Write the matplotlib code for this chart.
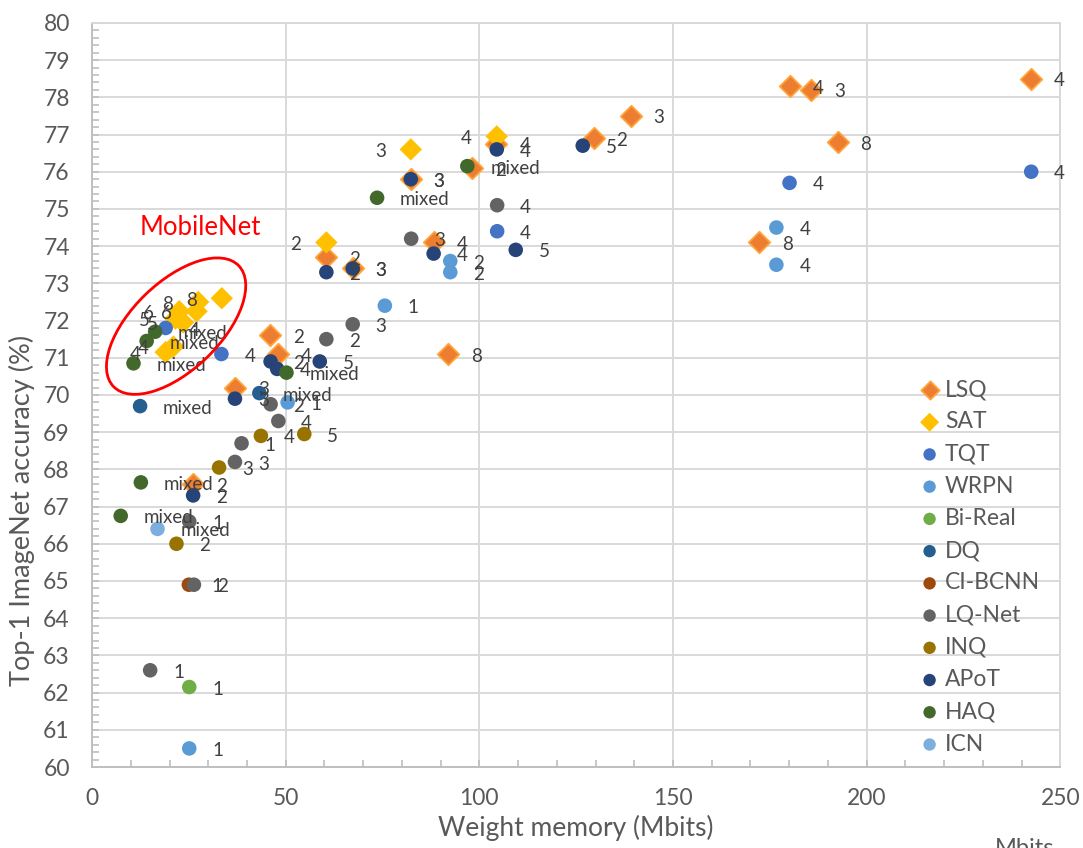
import numpy as np
import matplotlib.pyplot as plt
from matplotlib.patches import Ellipse
from matplotlib.transforms import ScaledTranslation
from matplotlib.ticker import MultipleLocator

plt.rcParams['font.family'] = ['Lato', 'DejaVu Sans']

# ---- data: (weight memory Mbits, top-1 acc %, bit label)
lsq_x = [242.5, 180.1, 185.6, 139.1, 129.5, 192.5, 172.3, 104.4, 98.2, 82.3, 88.2, 60.5, 67.3, 45.9, 48.1, 36.9, 91.9, 26.1]
lsq_y = [78.5, 78.3, 78.2, 77.5, 76.9, 76.8, 74.1, 76.75, 76.1, 75.8, 74.1, 73.7, 73.4, 71.6, 71.1, 70.2, 71.1, 67.6]
lsq_lab = ['4', '4', '3', '3', '2', '8', '8', '4', '2', '3', '4', '2', '3', '2', '4', '3', '8', '2']

sat_x = [104.5, 82.3, 60.5, 33.5, 27.4, 27.0, 22.5, 23.5, 21.5, 21.0, 19.0]
sat_y = [76.95, 76.6, 74.1, 72.6, 72.5, 72.25, 72.25, 71.95, 72.05, 71.3, 71.15]
sat_lab = ['4', '3', '2', '8', '8', '6', '6', '5', '5', '4', '4']

tqt_x = [242.5, 180.1, 104.6, 33.4, 19.0]
tqt_y = [76.0, 75.7, 74.4, 71.1, 71.8]
tqt_lab = ['4', '4', '4', '4', '4']

wrpn_x = [176.7, 176.7, 92.5, 92.5, 75.6, 50.5, 25.1]
wrpn_y = [74.5, 73.5, 73.6, 73.3, 72.4, 69.8, 60.5]
wrpn_lab = ['4', '4', '2', '2', '1', '1', '1']

bireal_x = [25.1]
bireal_y = [62.15]
bireal_lab = ['1']

dq_x = [43.2, 12.4]
dq_y = [70.05, 69.7]
dq_lab = ['mixed', 'mixed']

cibcnn_x = [25.0]
cibcnn_y = [64.9]
cibcnn_lab = ['1']

lqnet_x = [104.6, 82.4, 67.3, 60.5, 46.1, 48.1, 38.6, 36.9, 25.1, 26.3, 15.0]
lqnet_y = [75.1, 74.2, 71.9, 71.5, 69.75, 69.3, 68.7, 68.2, 66.6, 64.9, 62.6]
lqnet_lab = ['4', '3', '3', '2', '2', '4', '1', '3', '1', '2', '1']

inq_x = [54.8, 43.6, 32.8, 21.8]
inq_y = [68.95, 68.9, 68.05, 66.0]
inq_lab = ['5', '4', '3', '2']

apot_x = [126.7, 104.5, 82.3, 88.2, 109.4, 60.5, 67.3, 58.8, 46.1, 47.8, 36.9, 26.1]
apot_y = [76.7, 76.6, 75.8, 73.8, 73.9, 73.3, 73.4, 70.9, 70.9, 70.7, 69.9, 67.3]
apot_lab = ['5', '4', '3', '4', '5', '2', '3', '5', '2', '4', '3', '2']

haq_x = [96.9, 73.6, 50.2, 10.7, 14.1, 16.3, 12.6, 7.4]
haq_y = [76.15, 75.3, 70.6, 70.85, 71.45, 71.7, 67.65, 66.75]
haq_lab = ['mixed'] * 8

icn_x = [16.9]
icn_y = [66.4]
icn_lab = ['mixed']

# name, x, y, labels, colour, marker
series = [
    ('LSQ', lsq_x, lsq_y, lsq_lab, '#ED7D31', 'D'),
    ('SAT', sat_x, sat_y, sat_lab, '#FFC000', 'D'),
    ('TQT', tqt_x, tqt_y, tqt_lab, '#4472C4', 'o'),
    ('WRPN', wrpn_x, wrpn_y, wrpn_lab, '#5B9BD5', 'o'),
    ('Bi-Real', bireal_x, bireal_y, bireal_lab, '#70AD47', 'o'),
    ('DQ', dq_x, dq_y, dq_lab, '#255E91', 'o'),
    ('CI-BCNN', cibcnn_x, cibcnn_y, cibcnn_lab, '#9E480E', 'o'),
    ('LQ-Net', lqnet_x, lqnet_y, lqnet_lab, '#636363', 'o'),
    ('INQ', inq_x, inq_y, inq_lab, '#997300', 'o'),
    ('APoT', apot_x, apot_y, apot_lab, '#264478', 'o'),
    ('HAQ', haq_x, haq_y, haq_lab, '#43682B', 'o'),
    ('ICN', icn_x, icn_y, icn_lab, '#7CAFDD', 'o'),
]

txt_col = '#595959'
lab_col = '#404040'
grid_col = '#d9d9d9'

fig = plt.figure(figsize=(10.83, 8.48), dpi=100)
ax = fig.add_axes([0.085, 0.0955, 0.894, 0.8775])

for i, (name, xs, ys, labs, col, mk) in enumerate(series):
    if name == 'LSQ':
        ax.scatter(xs, ys, s=120, marker=mk, c=col, edgecolors='#FFA53A', linewidths=1.3,
                   label=name, zorder=3 + i * 0.01)
    elif mk == 'D':
        ax.scatter(xs, ys, s=130, marker=mk, c=col, edgecolors='none', label=name, zorder=3 + i * 0.01)
    else:
        ax.scatter(xs, ys, s=110, marker=mk, c=col, edgecolors='none', label=name, zorder=3 + i * 0.01)
    # SAT labels sit on the left of the marker, all the others on the right
    for x, y, t in zip(xs, ys, labs):
        if name == 'SAT':
            ax.annotate(t, (x, y), xytext=(-18, -1.5), textcoords='offset points',
                        ha='right', va='center', fontsize=13.5, color=lab_col, zorder=10)
        else:
            ax.annotate(t, (x, y), xytext=(16.5, -1.5), textcoords='offset points',
                        ha='left', va='center', fontsize=13.5, color=lab_col, zorder=10)

ax.set_xlim(0, 250)
ax.set_ylim(60, 80)
ax.xaxis.set_major_locator(MultipleLocator(50))
ax.xaxis.set_minor_locator(MultipleLocator(10))
ax.yaxis.set_major_locator(MultipleLocator(1))
ax.yaxis.set_minor_locator(MultipleLocator(0.2))
ax.grid(True, which='major', color=grid_col, lw=1.4, zorder=0)
ax.set_axisbelow(True)
for s in ax.spines.values():
    s.set_color(grid_col)
    s.set_linewidth(1.4)
ax.spines['left'].set_color('#bfbfbf')
ax.spines['bottom'].set_color('#bfbfbf')
ax.tick_params(which='both', direction='in', color='#bfbfbf', width=1.2,
               top=False, right=False, labelcolor=txt_col, labelsize=16.5)
ax.tick_params(which='major', length=5)
ax.tick_params(which='minor', length=5)
ax.tick_params(axis='x', pad=15)
ax.tick_params(axis='y', pad=16)

ax.set_xlabel('Weight memory (Mbits)', fontsize=19, color=txt_col, va='center')
ax.set_ylabel('Top-1 ImageNet accuracy (%)', fontsize=19.5, color=txt_col, va='center')
ax.xaxis.set_label_coords(0.5, -0.082)
ax.yaxis.set_label_coords(-0.072, 0.345)

# MobileNet annotation
ax.text(12.4, 74.49, 'MobileNet', color='#FF0000', fontsize=18.5, ha='left', va='center', zorder=11)
trans = fig.dpi_scale_trans + ScaledTranslation(21.7, 71.85, ax.transData)
ax.add_patch(Ellipse((0, 0), width=1.74, height=0.88, angle=44, transform=trans,
                     fill=False, edgecolor='#FF0000', lw=2, zorder=11, clip_on=False))

leg = ax.legend(loc='upper left', bbox_to_anchor=(921 / 1083, 1 - 379 / 848),
                bbox_transform=fig.transFigure, frameon=False, fontsize=16.5,
                handlelength=0.75, handletextpad=0.3, labelspacing=0.49,
                borderpad=0, borderaxespad=0, markerscale=0.85)
for t in leg.get_texts():
    t.set_color(txt_col)

fig.text(1025 / 1083, 10 / 848, 'Mbits', color=txt_col, fontsize=17, ha='center', va='top')

plt.savefig('out.png')
